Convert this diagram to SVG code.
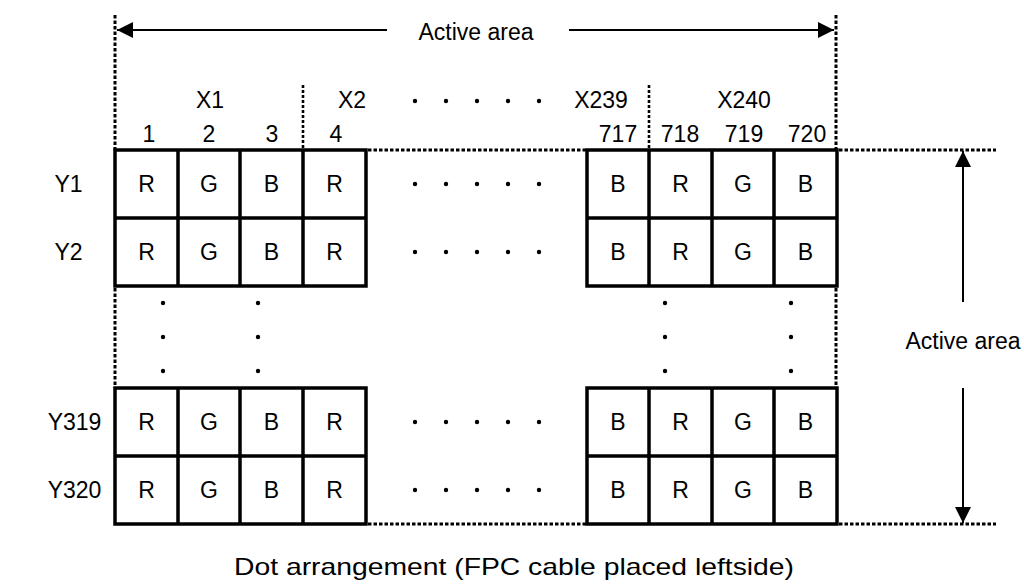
<svg xmlns="http://www.w3.org/2000/svg" width="1024" height="585" viewBox="0 0 1024 585">
<defs>
<style>
text{font-family:"Liberation Sans",Arial,sans-serif;font-size:23px;fill:#000;text-anchor:middle}
.grid{fill:none;stroke:#000;stroke-width:3.5}
.dot{fill:none;stroke:#000;stroke-width:3;stroke-dasharray:3.5 2}
.dotv{fill:none;stroke:#000;stroke-width:2.6;stroke-dasharray:3 2}
.arr{fill:none;stroke:#000;stroke-width:2}
.pt{fill:#000}
</style>
<marker id="ah" viewBox="0 0 16 16" refX="16" refY="8" markerWidth="16" markerHeight="16" markerUnits="userSpaceOnUse" orient="auto">
<path d="M0,0 L16,8 L0,16 Z" fill="#000"/>
</marker>
</defs>
<rect width="1024" height="585" fill="#fff"/>

<g id="connectors">
<line class="arr" x1="387" y1="30" x2="117" y2="30" marker-end="url(#ah)"/>
<line class="arr" x1="569" y1="30" x2="834" y2="30" marker-end="url(#ah)"/>
<line class="arr" x1="963" y1="302" x2="963" y2="151" marker-end="url(#ah)"/>
<line class="arr" x1="963" y1="388" x2="963" y2="523" marker-end="url(#ah)"/>
</g>

<g id="guides">
<line class="dot" x1="115" y1="15" x2="115" y2="150"/>
<line class="dot" x1="836" y1="15" x2="836" y2="150"/>
<line class="dotv" x1="303" y1="85" x2="303" y2="150"/>
<line class="dotv" x1="649" y1="85" x2="649" y2="150"/>
<line class="dot" x1="368" y1="150" x2="587" y2="150"/>
<line class="dot" x1="839" y1="150" x2="996" y2="150"/>
<line class="dot" x1="368" y1="524" x2="587" y2="524"/>
<line class="dot" x1="839" y1="524" x2="996" y2="524"/>
<line class="dot" x1="115" y1="288" x2="115" y2="388"/>
<line class="dot" x1="836" y1="288" x2="836" y2="388"/>
</g>

<g id="labels-top">
<text x="476" y="40">Active area</text>
<text x="210" y="108">X1</text>
<text x="352" y="108">X2</text>
<text x="601" y="108">X239</text>
<text x="744" y="108">X240</text>
<circle class="pt" cx="415" cy="101" r="2.2"/>
<circle class="pt" cx="446" cy="101" r="2.2"/>
<circle class="pt" cx="477" cy="101" r="2.2"/>
<circle class="pt" cx="508" cy="101" r="2.2"/>
<circle class="pt" cx="539" cy="101" r="2.2"/>
<text x="149" y="142">1</text>
<text x="209" y="142">2</text>
<text x="272" y="142">3</text>
<text x="336" y="142">4</text>
<text x="618" y="142">717</text>
<text x="680" y="142">718</text>
<text x="744" y="142">719</text>
<text x="807" y="142">720</text>
</g>

<g id="block-top-left">
<rect class="grid" x="115" y="150" width="251" height="136"/>
<path class="grid" d="M178,150V286M240,150V286M303,150V286M115,218H366"/>
</g>
<g id="block-top-right">
<rect class="grid" x="587" y="150" width="250" height="136"/>
<path class="grid" d="M649,150V286M712,150V286M774,150V286M587,218H837"/>
</g>
<g id="block-bottom-left">
<rect class="grid" x="115" y="388" width="251" height="136"/>
<path class="grid" d="M178,388V524M240,388V524M303,388V524M115,456H366"/>
</g>
<g id="block-bottom-right">
<rect class="grid" x="587" y="388" width="250" height="136"/>
<path class="grid" d="M649,388V524M712,388V524M774,388V524M587,456H837"/>
</g>

<g id="row-Y1">
<text x="68.5" y="192">Y1</text>
<text x="146.5" y="192">R</text><text x="209" y="192">G</text><text x="271.5" y="192">B</text><text x="334.5" y="192">R</text>
<circle class="pt" cx="415" cy="184" r="2.2"/><circle class="pt" cx="446" cy="184" r="2.2"/><circle class="pt" cx="477" cy="184" r="2.2"/><circle class="pt" cx="508" cy="184" r="2.2"/><circle class="pt" cx="539" cy="184" r="2.2"/>
<text x="618" y="192">B</text><text x="680.5" y="192">R</text><text x="743" y="192">G</text><text x="805.5" y="192">B</text>
</g>
<g id="row-Y2">
<text x="68.5" y="260">Y2</text>
<text x="146.5" y="260">R</text><text x="209" y="260">G</text><text x="271.5" y="260">B</text><text x="334.5" y="260">R</text>
<circle class="pt" cx="415" cy="252" r="2.2"/><circle class="pt" cx="446" cy="252" r="2.2"/><circle class="pt" cx="477" cy="252" r="2.2"/><circle class="pt" cx="508" cy="252" r="2.2"/><circle class="pt" cx="539" cy="252" r="2.2"/>
<text x="618" y="260">B</text><text x="680.5" y="260">R</text><text x="743" y="260">G</text><text x="805.5" y="260">B</text>
</g>
<g id="gap-dots">
<circle class="pt" cx="163" cy="303" r="2.2"/><circle class="pt" cx="163" cy="337" r="2.2"/><circle class="pt" cx="163" cy="371" r="2.2"/>
<circle class="pt" cx="258" cy="303" r="2.2"/><circle class="pt" cx="258" cy="337" r="2.2"/><circle class="pt" cx="258" cy="371" r="2.2"/>
<circle class="pt" cx="665" cy="303" r="2.2"/><circle class="pt" cx="665" cy="337" r="2.2"/><circle class="pt" cx="665" cy="371" r="2.2"/>
<circle class="pt" cx="791" cy="303" r="2.2"/><circle class="pt" cx="791" cy="337" r="2.2"/><circle class="pt" cx="791" cy="371" r="2.2"/>
</g>
<g id="row-Y319">
<text x="74.5" y="430">Y319</text>
<text x="146.5" y="430">R</text><text x="209" y="430">G</text><text x="271.5" y="430">B</text><text x="334.5" y="430">R</text>
<circle class="pt" cx="415" cy="422" r="2.2"/><circle class="pt" cx="446" cy="422" r="2.2"/><circle class="pt" cx="477" cy="422" r="2.2"/><circle class="pt" cx="508" cy="422" r="2.2"/><circle class="pt" cx="539" cy="422" r="2.2"/>
<text x="618" y="430">B</text><text x="680.5" y="430">R</text><text x="743" y="430">G</text><text x="805.5" y="430">B</text>
</g>
<g id="row-Y320">
<text x="74.5" y="498">Y320</text>
<text x="146.5" y="498">R</text><text x="209" y="498">G</text><text x="271.5" y="498">B</text><text x="334.5" y="498">R</text>
<circle class="pt" cx="415" cy="490" r="2.2"/><circle class="pt" cx="446" cy="490" r="2.2"/><circle class="pt" cx="477" cy="490" r="2.2"/><circle class="pt" cx="508" cy="490" r="2.2"/><circle class="pt" cx="539" cy="490" r="2.2"/>
<text x="618" y="498">B</text><text x="680.5" y="498">R</text><text x="743" y="498">G</text><text x="805.5" y="498">B</text>
</g>

<g id="label-right">
<text x="963" y="349">Active area</text>
</g>
<g id="caption">
<text x="514" y="575" textLength="560" lengthAdjust="spacingAndGlyphs" style="font-size:24px">Dot arrangement (FPC cable placed leftside)</text>
</g>
</svg>
